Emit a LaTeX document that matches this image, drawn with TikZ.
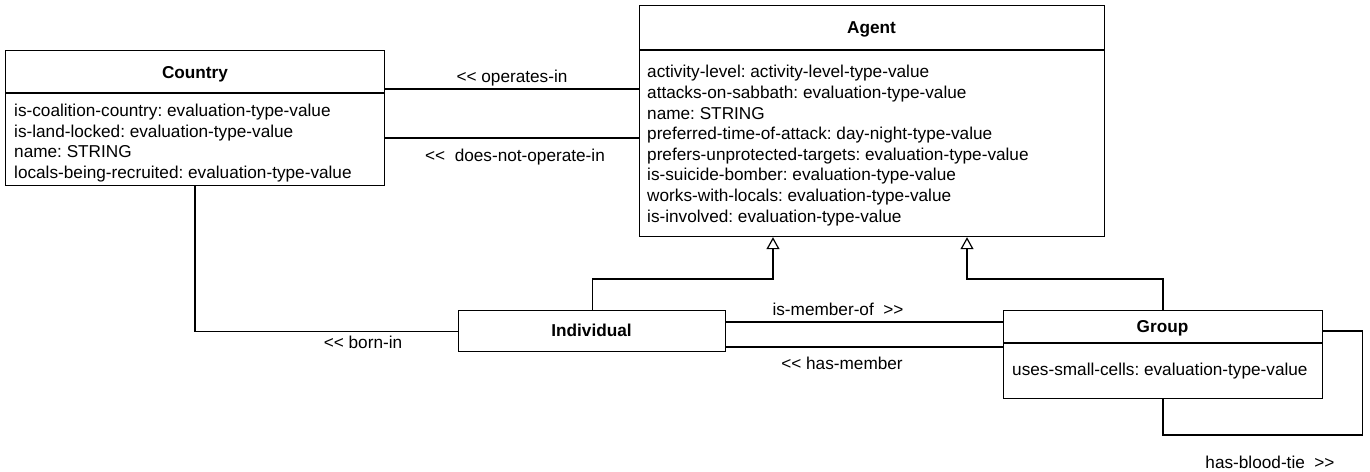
\documentclass[tikz,border=0pt]{standalone}
\usepackage{fontspec}
\setmainfont{Liberation Sans}
\usetikzlibrary{arrows.meta,calc}
\begin{document}
\begin{tikzpicture}[x=1pt,y=-1pt,
  every node/.style={font=\fontsize{17.2}{20.6}\selectfont, inner sep=0pt},
  classbox/.style={draw, line width=1.2pt, anchor=north west, minimum width=#1},
  title/.style={anchor=base, font=\fontsize{17.2}{20.6}\selectfont\bfseries},
  attrs/.style={anchor=base west, align=left},
  lbl/.style={anchor=base},
  conn/.style={line width=1.2pt},
  inh/.style={line width=1.2pt, -{Triangle[open, length=12pt, width=13pt, fill=white]}}
]
\path[use as bounding box, fill=white] (0,0) rectangle (1370,471);

% Country
\node[classbox=379pt, minimum height=135pt] (country) at (5,50) {};
\draw[conn] ($(country.north west)+(0,43)$) -- ($(country.north east)+(0,43)$);
\node[title] (countryT) at (195,78) {Country};
% anchor base = baseline of last line
\node[attrs] (countryA) at (14,178.5) {is-coalition-country:\ evaluation-type-value\\is-land-locked:\ evaluation-type-value\\name:\ STRING\\locals-being-recruited:\ evaluation-type-value};

% Agent
\node[classbox=465pt, minimum height=231pt] (agent) at (639,5) {};
\draw[conn] ($(agent.north west)+(0,45)$) -- ($(agent.north east)+(0,45)$);
\node[title] (agentT) at (871.5,33.5) {Agent};
\node[attrs] (agentA) at (647,222) {activity-level:\ activity-level-type-value\\attacks-on-sabbath:\ evaluation-type-value\\name:\ STRING\\preferred-time-of-attack:\ day-night-type-value\\prefers-unprotected-targets:\ evaluation-type-value\\is-suicide-bomber:\ evaluation-type-value\\works-with-locals:\ evaluation-type-value\\is-involved:\ evaluation-type-value};

% Individual
\node[classbox=267pt, minimum height=41pt] (individual) at (458,310) {};
\node[title] (individualT) at (591.5,336.5) {Individual};

% Group
\node[classbox=319pt, minimum height=88pt] (group) at (1003,310) {};
\draw[conn] ($(group.north west)+(0,33)$) -- ($(group.north east)+(0,33)$);
\node[title] (groupT) at (1162.5,332.5) {Group};
\node[attrs] (groupA) at (1012,375) {uses-small-cells:\ evaluation-type-value};

% Associations Country - Agent
\draw[conn] ($(country.north east)+(0,39)$) -- ($(agent.north west)+(0,84)$);
\node[lbl] (opin) at (512,82) {<{}< operates-in};
\draw[conn] ($(country.north east)+(0,88)$) -- ($(agent.north west)+(0,133)$);
\node[lbl] (dnoi) at (515,161) {<{}<\ \ does-not-operate-in};

% born-in
\draw[conn] ($(country.south west)+(190,0)$) |- (individual.west);
\node[lbl] (bornin) at (363,348) {<{}< born-in};

% member associations
\draw[conn] ($(individual.north east)+(0,12)$) -- ($(group.north west)+(0,12)$);
\node[lbl] (ismem) at (838,315) {is-member-of\ \ >{}>};
\draw[conn] ($(individual.north east)+(0,37)$) -- ($(group.north west)+(0,37)$);
\node[lbl] (hasmem) at (842,369) {<{}< has-member};

% self loop
\draw[conn] ($(group.north east)+(0,21)$) -- ++(39,0) -- ++(0,104) -| ($(group.south west)+(160,0)$);
\node[lbl] (blood) at (1270,468) {has-blood-tie\ \ >{}>};

% generalisations
\draw[inh] (individual.north) -- ++(0,-31) -| ($(agent.south west)+(134,0)$);
\draw[inh] ($(group.north west)+(160,0)$) -- ++(0,-31) -| ($(agent.south west)+(328,0)$);
\end{tikzpicture}
\end{document}
